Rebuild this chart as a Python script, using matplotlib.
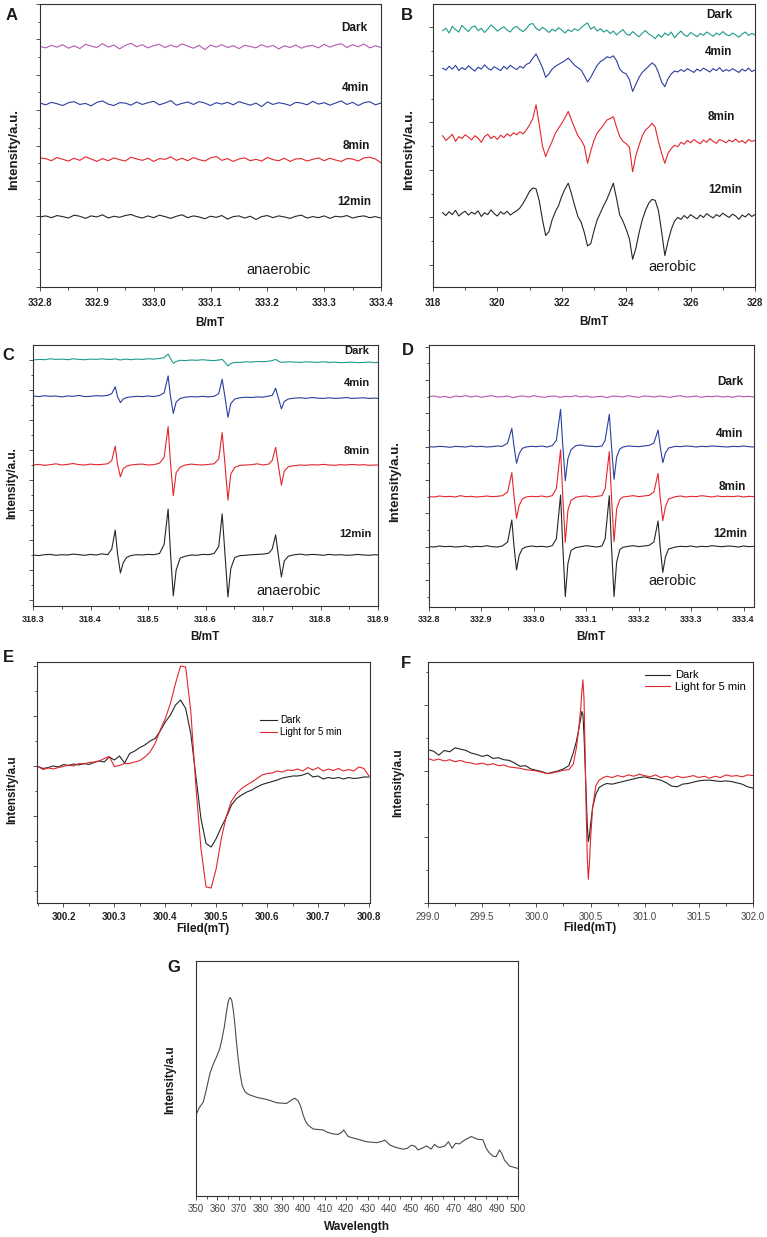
import numpy as np
import matplotlib.pyplot as plt
from matplotlib.ticker import MultipleLocator

plt.rcParams['font.family'] = ['Liberation Sans', 'DejaVu Sans']

# ---------------- data ----------------
# A: anaerobic, 332.8-333.4 mT, flat noisy traces (offsets + noise)
a_dark_dev = [0.00, -0.04, 0.03, -0.02, 0.05, -0.05, 0.02, -0.06, 0.06, 0.01,
              -0.03, 0.08, -0.02, 0.04, -0.07, 0.03, 0.09, -0.01, 0.05, -0.04,
              0.02, 0.06, -0.03, 0.04, -0.02, 0.07, 0.01, -0.05, 0.03, -0.09,
              0.04, -0.02, 0.05, -0.03, 0.02, -0.06, 0.03, 0.00, -0.04, 0.05,
              -0.02, 0.03, -0.07, 0.02, -0.03, 0.04, -0.05, 0.01, 0.03, -0.04,
              0.06, -0.02, 0.04, 0.08, -0.03, 0.05, -0.01, 0.07, -0.04, 0.02, -0.03]
a_4_dev = [0.02, -0.03, 0.04, 0.00, -0.05, 0.03, 0.06, -0.02, 0.01, -0.06,
           0.04, 0.08, -0.01, -0.05, 0.03, 0.02, -0.04, 0.05, -0.02, 0.03,
           0.07, -0.03, 0.02, 0.09, -0.04, 0.01, 0.05, -0.02, 0.06, 0.02,
           -0.05, 0.03, -0.01, 0.04, -0.03, 0.06, 0.01, -0.04, 0.02, -0.08,
           0.05, -0.02, 0.03, 0.00, -0.05, 0.04, 0.02, -0.03, 0.07, -0.01,
           0.03, -0.04, 0.02, 0.08, -0.02, 0.04, -0.05, 0.03, 0.06, -0.03, 0.02]
a_8_dev = [0.05, 0.03, -0.03, 0.06, 0.01, -0.04, 0.04, -0.02, 0.08, 0.02,
           -0.05, 0.03, -0.03, 0.05, 0.00, -0.04, 0.07, 0.02, -0.02, 0.04,
           -0.05, 0.03, 0.01, 0.08, -0.02, 0.04, -0.03, 0.06, 0.00, -0.04,
           0.05, 0.09, -0.02, 0.03, -0.05, 0.02, 0.05, -0.03, 0.01, -0.04,
           0.06, 0.00, -0.03, 0.04, -0.05, 0.02, 0.03, -0.04, 0.01, 0.05,
           -0.03, 0.04, -0.01, -0.05, 0.03, 0.02, -0.04, 0.05, 0.07, 0.02, -0.09]
a_12_dev = [0.00, 0.03, -0.02, 0.04, 0.01, -0.03, 0.05, 0.02, -0.04, 0.03,
            0.00, 0.06, -0.03, 0.02, -0.01, 0.04, 0.07, 0.01, -0.03, 0.03,
            -0.02, 0.05, 0.01, -0.04, 0.02, 0.06, -0.02, 0.03, 0.00, -0.05,
            0.02, -0.01, 0.04, -0.06, 0.01, 0.03, -0.03, 0.02, -0.07, 0.01,
            0.04, -0.02, 0.03, 0.00, -0.04, 0.02, 0.05, -0.03, 0.01, -0.02,
            0.03, -0.04, 0.02, 0.00, 0.04, -0.03, 0.01, 0.03, -0.02, 0.01, -0.03]
a_base = [6.80, 5.18, 3.60, 1.98]

# B: aerobic, 318.3-328 mT (0.1 mT steps)
b_dark = [5.93, 5.98, 5.88, 6.02, 5.95, 5.90, 6.04, 5.97, 5.91, 6.00,
          6.03, 5.93, 5.98, 5.89, 5.96, 6.05, 5.99, 5.92, 5.97, 6.01,
          5.94, 5.90, 5.99, 6.02, 5.95, 5.91, 5.97, 6.06, 6.08, 5.98,
          5.93, 6.00, 5.95, 5.89, 5.96, 5.92, 5.99, 5.94, 5.88, 5.95,
          5.91, 5.97, 5.93, 5.99, 6.05, 6.09, 5.96, 6.01, 5.92, 5.97,
          5.90, 5.94, 5.87, 5.92, 5.84, 5.90, 5.95, 5.86, 5.83, 5.91,
          5.85, 5.80, 5.88, 5.93, 5.86, 5.82, 5.76, 5.85, 5.79, 5.88,
          5.83, 5.90, 5.78, 5.86, 5.92, 5.84, 5.81, 5.89, 5.85, 5.80,
          5.87, 5.83, 5.90, 5.86, 5.81, 5.88, 5.84, 5.91, 5.85, 5.82,
          5.88, 5.84, 5.79, 5.86, 5.90, 5.83, 5.87, 5.84]
b_4 = [5.14, 5.10, 5.18, 5.12, 5.20, 5.09, 5.15, 5.11, 5.19, 5.13,
       5.08, 5.16, 5.12, 5.21, 5.14, 5.10, 5.17, 5.13, 5.09, 5.18,
       5.12, 5.20, 5.15, 5.11, 5.18, 5.14, 5.22, 5.25, 5.35, 5.44,
       5.30, 5.15, 4.95, 5.02, 5.12, 5.18, 5.22, 5.26, 5.30, 5.35,
       5.28, 5.20, 5.15, 5.10, 4.98, 4.85, 4.95, 5.08, 5.20, 5.28,
       5.32, 5.38, 5.36, 5.40, 5.30, 5.12, 5.05, 5.02, 4.90, 4.65,
       4.80, 4.95, 5.05, 5.12, 5.18, 5.25, 5.20, 5.05, 4.85, 4.75,
       4.92, 5.02, 5.08, 5.06, 5.11, 5.07, 5.13, 5.09, 5.05, 5.12,
       5.08, 5.14, 5.10, 5.06, 5.13, 5.09, 5.15, 5.07, 5.11, 5.08,
       5.13, 5.09, 5.05, 5.12, 5.08, 5.14, 5.07, 5.10]
b_8 = [3.72, 3.62, 3.68, 3.75, 3.60, 3.70, 3.66, 3.74, 3.69, 3.63,
       3.72, 3.67, 3.58, 3.70, 3.75, 3.66, 3.71, 3.64, 3.73, 3.68,
       3.76, 3.71, 3.78, 3.74, 3.80, 3.76, 3.84, 3.95, 4.08, 4.37,
       3.95, 3.50, 3.28, 3.45, 3.60, 3.77, 3.88, 3.98, 4.10, 4.23,
       4.05, 3.88, 3.72, 3.63, 3.50, 3.14, 3.40, 3.62, 3.78, 3.86,
       3.95, 4.05, 4.08, 4.12, 3.90, 3.70, 3.60, 3.55, 3.48, 2.96,
       3.30, 3.52, 3.72, 3.84, 3.90, 3.98, 3.90, 3.60, 3.35, 3.14,
       3.35, 3.45, 3.52, 3.49, 3.58, 3.54, 3.62, 3.57, 3.64, 3.59,
       3.55, 3.63, 3.58, 3.66, 3.60, 3.56, 3.64, 3.61, 3.57, 3.63,
       3.59, 3.65, 3.58, 3.62, 3.56, 3.64, 3.60, 3.62]
b_12 = [2.10, 2.04, 2.12, 2.06, 2.15, 2.03, 2.09, 2.13, 2.05, 2.11,
        2.07, 2.14, 2.02, 2.10, 2.06, 2.16, 2.08, 2.03, 2.12, 2.07,
        2.13, 2.05, 2.10, 2.14, 2.20, 2.30, 2.42, 2.55, 2.62, 2.60,
        2.35, 1.95, 1.62, 1.70, 1.95, 2.12, 2.25, 2.45, 2.60, 2.72,
        2.50, 2.25, 2.02, 1.90, 1.68, 1.40, 1.45, 1.72, 1.95, 2.10,
        2.25, 2.38, 2.55, 2.72, 2.40, 2.05, 1.92, 1.75, 1.55, 1.12,
        1.35, 1.68, 1.95, 2.15, 2.30, 2.38, 2.36, 2.15, 1.70, 1.20,
        1.50, 1.75, 1.92, 2.00, 1.96, 2.04, 1.98, 2.06, 2.01, 1.97,
        2.05, 2.00, 2.08, 2.03, 1.99, 2.06, 2.02, 2.09, 2.04, 2.00,
        2.07, 2.03, 1.96, 2.05, 2.01, 2.08, 2.02, 2.06]

# C: anaerobic, 318.3-318.9 mT
c_x = [318.300, 318.310, 318.320, 318.330, 318.340, 318.350, 318.360, 318.370, 318.380, 318.390, 318.400, 318.410, 318.420, 318.430,
       318.437, 318.443, 318.447, 318.452, 318.457, 318.463,
       318.470, 318.480, 318.490, 318.500, 318.510, 318.520,
       318.528, 318.535, 318.539, 318.544, 318.549, 318.556,
       318.565, 318.575, 318.585, 318.595, 318.605, 318.615,
       318.623, 318.629, 318.634, 318.639, 318.644, 318.651,
       318.660, 318.670, 318.680, 318.690, 318.700, 318.710,
       318.716, 318.722, 318.727, 318.732, 318.737, 318.744,
       318.755, 318.765, 318.775, 318.785, 318.795, 318.805, 318.815, 318.825,
       318.835, 318.845, 318.855, 318.865, 318.875, 318.885, 318.895, 318.900]
c_12 = [1.70, 1.68, 1.71, 1.72, 1.69, 1.71, 1.70, 1.73, 1.71, 1.69, 1.72, 1.70, 1.74, 1.71,
        1.90, 2.53, 1.75, 1.10, 1.45, 1.62,
        1.68, 1.71, 1.70, 1.72, 1.71, 1.75,
        2.05, 3.23, 1.80, 0.34, 1.20, 1.60,
        1.66, 1.70, 1.69, 1.72, 1.71, 1.75,
        1.98, 3.07, 1.70, 0.30, 1.25, 1.62,
        1.68, 1.69, 1.71, 1.72, 1.73, 1.76,
        1.90, 2.37, 1.65, 0.97, 1.50, 1.66,
        1.71, 1.73, 1.70, 1.72, 1.71, 1.69, 1.72, 1.70, 1.71, 1.69, 1.70, 1.72, 1.70, 1.69, 1.71, 1.70]
c_8 = [4.70, 4.72, 4.69, 4.71, 4.74, 4.70, 4.72, 4.75, 4.71, 4.70, 4.73, 4.71, 4.72, 4.74,
       4.85, 5.33, 4.72, 4.31, 4.58, 4.66,
       4.70, 4.72, 4.73, 4.70, 4.71, 4.76,
       4.95, 5.98, 4.80, 3.68, 4.45, 4.63,
       4.70, 4.73, 4.71, 4.70, 4.72, 4.74,
       4.90, 5.78, 4.70, 3.53, 4.40, 4.62,
       4.69, 4.70, 4.71, 4.74, 4.70, 4.73,
       4.85, 5.29, 4.65, 4.03, 4.50, 4.64,
       4.68, 4.70, 4.69, 4.71, 4.70, 4.72, 4.70, 4.69, 4.71, 4.70, 4.72, 4.70, 4.71, 4.69, 4.70, 4.70]
c_4 = [7.00, 6.98, 7.01, 6.99, 7.00, 6.97, 7.00, 6.99, 7.02, 6.98, 6.99, 7.01, 7.00, 7.02,
       7.08, 7.31, 6.98, 6.78, 6.90, 6.95,
       6.97, 6.99, 6.98, 7.00, 6.98, 7.02,
       7.10, 7.67, 7.00, 6.42, 6.80, 6.92,
       6.96, 6.98, 6.97, 6.99, 6.97, 6.99,
       7.08, 7.56, 6.95, 6.29, 6.75, 6.90,
       6.94, 6.96, 6.95, 6.97, 6.96, 7.00,
       7.02, 7.26, 6.92, 6.57, 6.82, 6.90,
       6.93, 6.94, 6.92, 6.95, 6.93, 6.92, 6.94, 6.92, 6.93, 6.95, 6.92, 6.93, 6.94, 6.92, 6.93, 6.92]
c_dark = [8.20, 8.22, 8.21, 8.24, 8.22, 8.23, 8.21, 8.24, 8.22, 8.21, 8.23, 8.22, 8.24, 8.22,
          8.22, 8.24, 8.22, 8.20, 8.22, 8.23,
          8.21, 8.23, 8.22, 8.24, 8.23, 8.25,
          8.28, 8.40, 8.25, 8.09, 8.15, 8.19,
          8.18, 8.20, 8.19, 8.21, 8.19, 8.18,
          8.20, 8.22, 8.12, 8.00, 8.08, 8.12,
          8.12, 8.14, 8.13, 8.15, 8.14, 8.16,
          8.18, 8.22, 8.16, 8.12, 8.13, 8.14,
          8.13, 8.12, 8.14, 8.13, 8.12, 8.14, 8.12, 8.13, 8.11, 8.12, 8.13, 8.11, 8.12, 8.13, 8.11, 8.12]

# D: aerobic, 332.8-333.42 mT
d_x = [332.800, 332.810, 332.820, 332.830, 332.840, 332.850, 332.860, 332.870, 332.880, 332.890, 332.900, 332.910, 332.920, 332.930, 332.940,
       332.950, 332.958, 332.962, 332.967, 332.972, 332.978,
       332.985, 332.995, 333.005, 333.015, 333.025, 333.035,
       333.043, 333.051, 333.055, 333.060, 333.065, 333.071,
       333.080, 333.090, 333.100, 333.110, 333.120, 333.130,
       333.136, 333.144, 333.148, 333.153, 333.158, 333.164,
       333.170, 333.180, 333.190, 333.200, 333.210, 333.220,
       333.229, 333.237, 333.241, 333.246, 333.251, 333.257,
       333.270, 333.280, 333.290, 333.300, 333.310, 333.320, 333.330, 333.340,
       333.350, 333.360, 333.370, 333.380, 333.390, 333.400, 333.410, 333.420]
d_12 = [1.81, 1.80, 1.83, 1.81, 1.82, 1.80, 1.81, 1.83, 1.80, 1.82, 1.81, 1.84, 1.81, 1.80, 1.83,
        1.95, 2.61, 1.85, 1.11, 1.55, 1.75,
        1.80, 1.83, 1.81, 1.82, 1.80, 1.84,
        2.05, 3.36, 1.90, 0.31, 1.30, 1.70,
        1.78, 1.81, 1.84, 1.82, 1.80, 1.83,
        2.05, 3.34, 1.85, 0.31, 1.35, 1.72,
        1.79, 1.82, 1.84, 1.81, 1.83, 1.85,
        1.95, 2.58, 1.80, 1.04, 1.50, 1.74,
        1.80, 1.82, 1.81, 1.83, 1.80, 1.82, 1.81, 1.84, 1.82, 1.81, 1.83, 1.82, 1.80, 1.83, 1.81, 1.82]
d_8 = [3.31, 3.30, 3.33, 3.31, 3.32, 3.30, 3.34, 3.31, 3.32, 3.30, 3.31, 3.33, 3.31, 3.32, 3.34,
       3.45, 4.03, 3.35, 2.66, 3.05, 3.24,
       3.30, 3.32, 3.31, 3.33, 3.30, 3.34,
       3.55, 4.71, 3.40, 1.94, 2.90, 3.20,
       3.29, 3.32, 3.33, 3.30, 3.32, 3.34,
       3.55, 4.66, 3.35, 1.96, 2.95, 3.22,
       3.30, 3.32, 3.34, 3.31, 3.33, 3.35,
       3.45, 4.01, 3.30, 2.59, 3.00, 3.24,
       3.31, 3.33, 3.30, 3.32, 3.31, 3.34, 3.32, 3.30, 3.33, 3.31, 3.32, 3.31, 3.33, 3.30, 3.32, 3.31]
d_4 = [4.81, 4.80, 4.82, 4.81, 4.79, 4.82, 4.81, 4.80, 4.83, 4.81, 4.82, 4.80, 4.81, 4.83, 4.82,
       4.92, 5.36, 4.84, 4.31, 4.60, 4.76,
       4.80, 4.82, 4.81, 4.83, 4.80, 4.84,
       5.00, 5.93, 4.90, 3.79, 4.45, 4.72,
       4.84, 4.86, 4.83, 4.82, 4.81, 4.83,
       5.00, 5.78, 4.85, 3.83, 4.50, 4.74,
       4.80, 4.83, 4.82, 4.81, 4.83, 4.85,
       4.92, 5.31, 4.82, 4.33, 4.62, 4.77,
       4.82, 4.81, 4.83, 4.82, 4.80, 4.82, 4.81, 4.83, 4.82, 4.81, 4.80, 4.82, 4.81, 4.83, 4.81, 4.80]
d_dark_dev = [0.00, 0.02, -0.02, 0.01, -0.03, 0.02, 0.00, 0.03, -0.01, 0.02,
              -0.02, 0.01, 0.03, -0.01, 0.00, 0.02, -0.03, 0.01, 0.02, -0.01,
              0.03, 0.00, -0.02, 0.01, 0.02, -0.02, 0.01, 0.00, 0.03, -0.01,
              0.02, -0.02, 0.00, 0.01, -0.03, 0.02, 0.01, -0.01, 0.03, 0.00,
              -0.02, 0.02, 0.01, -0.01, 0.02, 0.00, -0.02, 0.01, 0.03, -0.01,
              0.00, 0.02, -0.02, 0.01, 0.00, 0.02, -0.01, 0.01, -0.02, 0.02,
              0.00, 0.01, -0.01]
d_dark_base = 6.31

# E: 300.15-300.80 mT (0.01 steps)
e_dark = [2.99, 2.95, 2.97, 3.00, 2.98, 3.03, 3.01, 3.04, 3.02, 3.05,
          3.03, 3.07, 3.10, 3.08, 3.18, 3.12, 3.20, 3.06, 3.25, 3.30,
          3.37, 3.42, 3.50, 3.55, 3.70, 3.88, 4.02, 4.22, 4.32, 4.15,
          3.65, 2.80, 1.95, 1.45, 1.38, 1.55, 1.78, 1.98, 2.22, 2.35,
          2.42, 2.48, 2.52, 2.58, 2.63, 2.66, 2.69, 2.72, 2.76, 2.78,
          2.80, 2.80, 2.82, 2.86, 2.78, 2.80, 2.74, 2.77, 2.75, 2.77,
          2.74, 2.77, 2.75, 2.76, 2.78, 2.78]
e_light = [2.99, 2.93, 2.96, 2.94, 2.97, 2.99, 3.02, 3.00, 3.05, 3.04,
           3.07, 3.08, 3.10, 3.15, 3.19, 2.99, 3.01, 3.05, 3.05, 3.08,
           3.11, 3.18, 3.28, 3.45, 3.72, 3.95, 4.25, 4.65, 5.00, 4.98,
           4.10, 2.60, 1.35, 0.58, 0.56, 0.95, 1.55, 2.00, 2.30, 2.45,
           2.55, 2.62, 2.68, 2.75, 2.82, 2.85, 2.86, 2.90, 2.88, 2.92,
           2.91, 2.94, 2.90, 2.97, 2.92, 2.97, 2.90, 2.94, 2.91, 2.95,
           2.90, 2.93, 2.90, 2.98, 2.95, 2.80]

# F: 299-302 mT, three sampled stretches
f_mid_x = [300.34, 300.37, 300.39, 300.41, 300.42, 300.43, 300.44, 300.45, 300.46,
           300.47, 300.48, 300.49, 300.50, 300.52, 300.55, 300.58, 300.62]
f_dark1 = [2.32, 2.30, 2.24, 2.31, 2.29, 2.35, 2.33, 2.31, 2.27, 2.25,
           2.22, 2.24, 2.19, 2.20, 2.17, 2.16, 2.12, 2.07, 2.08, 2.03,
           2.01, 1.99, 1.96, 1.98, 2.00, 2.03, 2.08]
f_dark2 = [2.27, 2.45, 2.62, 2.80, 2.90, 2.85, 2.55, 2.10, 1.65,
           1.20, 0.93, 1.02, 1.18, 1.45, 1.65, 1.75, 1.79]
f_dark3 = [1.81, 1.80, 1.82, 1.84, 1.86, 1.88, 1.90, 1.91, 1.89, 1.88,
           1.86, 1.82, 1.77, 1.76, 1.80, 1.81, 1.83, 1.85, 1.86, 1.86,
           1.85, 1.84, 1.85, 1.84, 1.82, 1.80, 1.76, 1.74]
f_light1 = [2.19, 2.16, 2.18, 2.15, 2.17, 2.14, 2.16, 2.13, 2.12, 2.10,
            2.12, 2.09, 2.11, 2.08, 2.09, 2.06, 2.05, 2.04, 2.02, 2.01,
            2.00, 1.98, 1.96, 1.97, 1.99, 2.01, 2.02]
f_light2 = [2.10, 2.35, 2.62, 2.95, 3.20, 3.38, 3.10, 2.30, 1.40,
            0.70, 0.36, 0.60, 0.95, 1.45, 1.78, 1.86, 1.90]
f_light3 = [1.92, 1.90, 1.93, 1.91, 1.94, 1.92, 1.95, 1.93, 1.91, 1.94,
            1.90, 1.92, 1.89, 1.92, 1.90, 1.91, 1.93, 1.90, 1.92, 1.89,
            1.92, 1.90, 1.94, 1.92, 1.93, 1.91, 1.94, 1.93]

# G: emission spectrum
g_wl = [350.0, 351.5, 353.4, 355.0, 356.5, 358.0, 359.6, 361.0, 362.0, 363.2,
        364.3, 365.1, 365.8, 366.6, 367.4, 368.1, 368.9, 369.7, 370.5, 371.5,
        372.8, 374.0, 375.1, 378.2, 382.8, 385.0, 387.5, 390.0, 392.2, 394.4,
        396.0, 397.6, 398.8, 399.9, 401.0, 402.2, 404.6, 407.0, 409.2, 411.0,
        413.9, 416.2, 418.0, 418.8, 420.0, 420.9, 424.8, 429.4, 434.1, 436.5,
        438.0, 440.3, 443.0, 446.5, 448.5, 450.3, 452.0, 453.4, 455.5, 457.3,
        459.6, 461.1, 462.3, 463.5, 465.8, 467.6, 469.3, 470.9, 472.7, 475.1,
        478.2, 481.3, 483.6, 485.2, 486.5, 488.3, 489.8, 491.4, 492.5, 493.7,
        496.0, 499.6, 500.0]
g_int = [0.345, 0.375, 0.400, 0.460, 0.522, 0.560, 0.593, 0.625, 0.664, 0.720,
         0.790, 0.830, 0.845, 0.835, 0.790, 0.730, 0.650, 0.580, 0.522, 0.470,
         0.444, 0.435, 0.430, 0.420, 0.411, 0.405, 0.397, 0.395, 0.394, 0.408,
         0.416, 0.405, 0.380, 0.345, 0.318, 0.302, 0.285, 0.283, 0.281, 0.272,
         0.264, 0.262, 0.272, 0.281, 0.265, 0.253, 0.243, 0.231, 0.227, 0.232,
         0.238, 0.217, 0.207, 0.199, 0.203, 0.216, 0.212, 0.196, 0.204, 0.213,
         0.200, 0.220, 0.210, 0.207, 0.212, 0.231, 0.203, 0.224, 0.222, 0.238,
         0.253, 0.241, 0.240, 0.203, 0.185, 0.170, 0.167, 0.196, 0.180, 0.153,
         0.128, 0.118, 0.118]

# colours
c_mag = '#b458b0'
c_teal = '#1f9a8b'
c_blue = '#2b3f9e'
c_red = '#e2262c'
c_blk = '#262626'
lw = 0.8

W, H = 767, 1237
fig = plt.figure(figsize=(W / 100, H / 100), dpi=100)


def add_ax(l, t, r, b):
    return fig.add_axes([l / W, 1 - b / H, (r - l) / W, (b - t) / H])


def ftext(x, y, s, size=8.5, weight='bold', rot=0, color='#1a1a1a'):
    fig.text(x / W, 1 - y / H, s, ha='center', va='center', fontsize=size,
             fontweight=weight, rotation=rot, color=color)


def frame(ax, xt, xfmt, xminor, ymaj, ymin, lsize=7, bold=True, pad=3.5, tcol='#222222'):
    ax.set_xticks(xt)
    ax.set_xticklabels([xfmt % v for v in xt], fontsize=lsize,
                       fontweight='bold' if bold else 'normal', color=tcol)
    ax.xaxis.set_minor_locator(MultipleLocator(xminor))
    if ymaj is None:
        ax.set_yticks([])
    else:
        ax.set_yticks(ymaj)
        ax.set_yticks(ymin, minor=True)
    ax.tick_params(which='both', direction='out', top=False, right=False,
                   labelleft=False, width=0.6, color='#333333', pad=pad)
    ax.tick_params(which='major', length=3.2)
    ax.tick_params(which='minor', length=1.8)
    for sp in ax.spines.values():
        sp.set_linewidth(0.8)
        sp.set_color('#333333')


# ---------- A ----------
ax = add_ax(40, 4, 381, 287)
for dev, base, col in zip([a_dark_dev, a_4_dev, a_8_dev, a_12_dev], a_base,
                          [c_mag, c_blue, c_red, c_blk]):
    xs = np.linspace(332.8, 333.4, len(dev))
    ax.plot(xs, base + np.array(dev), color=col, lw=lw)
frame(ax, np.arange(332.8, 333.41, 0.1), '%.1f', 0.05,
      np.arange(0, 8.01, 1), np.arange(0.5, 8, 1), lsize=7, pad=4.5)
ax.set_xlim(332.8, 333.4)
ax.set_ylim(0, 8)
ftext(354, 28, 'Dark')
ftext(356, 88, '4min')
ftext(356, 146, '8min')
ftext(354, 202, '12min')
ftext(279, 270, 'anaerobic', size=10.5, weight='normal')
ftext(210, 323, 'B/mT', size=8.5)
ftext(14, 150, 'Intensity/a.u.', size=9.5, rot=90)
ftext(12, 15, 'A', size=12)

# ---------- B ----------
ax = add_ax(433, 4, 755, 287)
for ys, col in zip([b_12, b_8, b_4, b_dark], [c_blk, c_red, c_blue, c_teal]):
    xs = np.linspace(318.3, 328.0, len(ys))
    ax.plot(xs, ys, color=col, lw=lw)
frame(ax, np.arange(318, 328.1, 2), '%d', 1,
      np.arange(1, 6.1, 1), np.arange(1.5, 6.5, 1), lsize=7, pad=4.5)
ax.set_xlim(318, 328)
ax.set_ylim(0.537, 6.49)
ftext(719, 15, 'Dark')
ftext(719, 52, '4min')
ftext(721, 117, '8min')
ftext(725, 190, '12min')
ftext(672, 267, 'aerobic', size=10.5, weight='normal')
ftext(594, 322, 'B/mT', size=8.5)
ftext(409, 150, 'Intensity/a.u.', size=9.5, rot=90)
ftext(407, 15, 'B', size=12)

# ---------- C ----------
ax = add_ax(33, 345, 378, 606)
for ys, col in zip([c_12, c_8, c_4, c_dark], [c_blk, c_red, c_blue, c_teal]):
    ax.plot(c_x, ys, color=col, lw=lw)
frame(ax, np.arange(318.3, 318.91, 0.1), '%.1f', 0.05,
      np.arange(0.2, 8.7, 1), np.arange(0.7, 8.7, 1), lsize=6.5, pad=3.5)
ax.set_xlim(318.3, 318.9)
ax.set_ylim(0, 8.7)
ftext(357, 351, 'Dark', size=8)
ftext(357, 383, '4min', size=8)
ftext(357, 451, '8min', size=8)
ftext(355, 534, '12min', size=8)
ftext(289, 591, 'anaerobic', size=10.5, weight='normal')
ftext(205, 637, 'B/mT', size=8.5)
ftext(12, 483, 'Intensity/a.u.', size=8.5, rot=90)
ftext(8, 355, 'C', size=12)

# ---------- D ----------
ax = add_ax(429, 345, 754, 607)
xs = np.linspace(332.8, 333.42, len(d_dark_dev))
ax.plot(xs, d_dark_base + np.array(d_dark_dev), color=c_mag, lw=lw)
for ys, col in zip([d_12, d_8, d_4], [c_blk, c_red, c_blue]):
    ax.plot(d_x, ys, color=col, lw=lw)
frame(ax, np.arange(332.8, 333.41, 0.1), '%.1f', 0.05,
      np.arange(0.81, 7.86, 1), np.arange(0.31, 7.86, 1), lsize=6.5, pad=2.5)
ax.set_xlim(332.8, 333.42)
ax.set_ylim(0, 7.86)
ftext(730, 382, 'Dark')
ftext(730, 434, '4min')
ftext(732, 487, '8min')
ftext(730, 534, '12min')
ftext(672, 581, 'aerobic', size=10.5, weight='normal')
ftext(591, 637, 'B/mT', size=8.5)
ftext(395, 482, 'Intensity/a.u.', size=9.5, rot=90)
ftext(408, 351, 'D', size=12)

# ---------- E ----------
ax = add_ax(37, 662, 370, 903)
xs = np.linspace(300.15, 300.80, len(e_dark))
ax.plot(xs, e_dark, color=c_blk, lw=lw, label='Dark')
xs = np.linspace(300.15, 300.80, len(e_light))
ax.plot(xs, e_light, color=c_red, lw=lw, label='Light for 5 min')
frame(ax, np.arange(300.2, 300.81, 0.1), '%.1f', 0.05,
      np.arange(1, 5.1, 1), np.arange(0.5, 5.1, 1), lsize=7, pad=3.5)
ax.set_xlim(300.148, 300.802)
ax.set_ylim(0.26, 5.08)
ax.legend(loc='upper left', bbox_to_anchor=(0.67, 0.78), frameon=False,
          fontsize=7, handlelength=1.75, handletextpad=0.3, labelspacing=0.25,
          borderpad=0, borderaxespad=0)
ftext(203, 929, 'Filed(mT)', size=8.5)
ftext(12, 790, 'Intensity/a.u', size=8.5, rot=90)
ftext(8, 658, 'E', size=12)

# ---------- F ----------
ax = add_ax(428, 662, 753, 903)
fx_d = np.concatenate([np.linspace(299.0, 300.3, len(f_dark1)), f_mid_x,
                       np.linspace(300.65, 302.0, len(f_dark3))])
ax.plot(fx_d, f_dark1 + f_dark2 + f_dark3, color=c_blk, lw=lw, label='Dark')
fx_l = np.concatenate([np.linspace(299.0, 300.3, len(f_light1)), f_mid_x,
                       np.linspace(300.65, 302.0, len(f_light3))])
ax.plot(fx_l, f_light1 + f_light2 + f_light3, color=c_red, lw=lw, label='Light for 5 min')
frame(ax, np.arange(299.0, 302.01, 0.5), '%.1f', 0.25,
      np.arange(0, 3.6, 1), np.arange(0.5, 3.6, 1), lsize=7, bold=False,
      pad=3, tcol='#444444')
ax.set_xlim(299, 302)
ax.set_ylim(0, 3.65)
ax.legend(loc='upper left', bbox_to_anchor=(0.668, 0.965), frameon=False,
          fontsize=8, handlelength=2.25, handletextpad=0.45, labelspacing=0.15,
          borderpad=0, borderaxespad=0)
ftext(590, 928, 'Filed(mT)', size=8.5)
ftext(398, 783, 'Intensity/a.u', size=8.5, rot=90)
ftext(406, 664, 'F', size=12)

# ---------- G ----------
ax = add_ax(196, 961, 518, 1196)
ax.plot(g_wl, g_int, color='#4a4a4a', lw=lw)
frame(ax, np.arange(350, 501, 10), '%d', 5, None, None, lsize=7, bold=False,
      pad=2.5, tcol='#444444')
ax.set_xlim(350, 500)
ax.set_ylim(0, 1)
ftext(357, 1227, 'Wavelength', size=8.5)
ftext(170, 1080, 'Intensity/a.u', size=8.5, rot=90)
ftext(174, 967, 'G', size=12)

fig.savefig('out.png', dpi=100)
